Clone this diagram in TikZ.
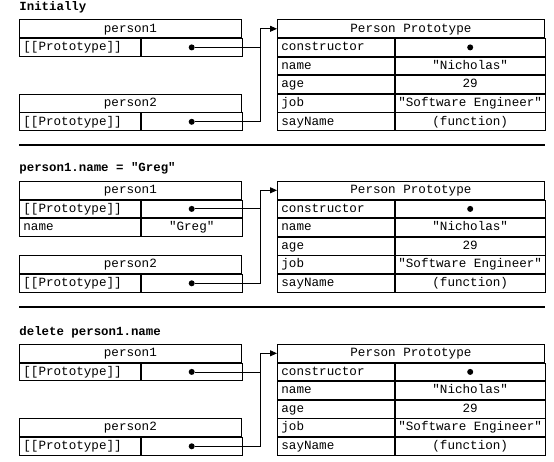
\documentclass[tikz,border=0pt]{standalone}
\usepackage{fontspec}
\setmonofont{Liberation Mono}
\usetikzlibrary{arrows.meta, positioning}
\tikzset{
  head/.style={rectangle, draw, inner sep=0pt, minimum height=17.8pt,
               text height=9pt, text depth=2.5pt, anchor=north west,
               font=\ttfamily\fontsize{12.6}{14}\selectfont},
  pkey/.style={head, text width=113pt, inner xsep=4pt, align=left},
  pval/.style={head, minimum width=101pt},
  okey/.style={head, text width=109pt, inner xsep=4pt, align=left},
  oval/.style={head, minimum width=150pt},
  heading/.style={anchor=base west, inner sep=0pt,
                  font=\ttfamily\bfseries\fontsize{12.4}{14}\selectfont},
  dot/.style={circle, fill, inner sep=0pt, minimum size=6pt},
  line/.style={line width=0.8pt},
  ptr/.style={line, -{Triangle[length=7pt, width=6pt]}},
  sep/.style={line width=1.4pt},
}
\begin{document}
\begin{tikzpicture}[x=1pt, y=-1pt, line width=0.8pt, node distance=0pt and 0pt]
  \useasboundingbox (0,0) rectangle (554,462);

  \foreach \s/\t/\txt in {1/19.5/Initially, 2/181/{person1.name = "Greg"}, 3/344/{delete person1.name}} {
    \node[heading] (cap\s) at (19,\t-9) {\txt};

    % prototype table
    \node[head, minimum width=267pt] (proto\s) at (277,\t) {Person Prototype};
    \node[okey, below right=of proto\s.south west] (con\s) {constructor};
    \node[oval, below right=of con\s.north east] (conv\s) {};
    \node[okey, below right=of con\s.south west] (name\s) {name};
    \node[oval, below right=of name\s.north east] (namev\s) {"Nicholas"};
    \node[okey, below right=of name\s.south west] (age\s) {age};
    \node[oval, below right=of age\s.north east] (agev\s) {29};
    \node[okey, below right=of age\s.south west] (job\s) {job};
    \node[oval, below right=of job\s.north east] (jobv\s) {"Software Engineer"};
    \node[okey, below right=of job\s.south west] (say\s) {sayName};
    \node[oval, below right=of say\s.north east] (sayv\s) {(function)};
    \node[dot] (cdot\s) at (conv\s.center) {};

    % person1 and person2
    \node[head, minimum width=222pt] (one\s) at (19,\t) {person1};
    \node[pkey, below right=of one\s.south west] (onek\s) {[[Prototype]]};
    \node[pval, below right=of onek\s.north east] (onev\s) {};
    \node[head, minimum width=222pt] (two\s) at (one\s.north west |- job\s.north) {person2};
    \node[pkey, below right=of two\s.south west] (twok\s) {[[Prototype]]};
    \node[pval, below right=of twok\s.north east] (twov\s) {};
    \node[dot] (dot1\s) at (onev\s.center) {};
    \node[dot] (dot2\s) at (twov\s.center) {};

    \coordinate[right=18pt of onev\s.east] (bend\s);
    \draw[line] (dot1\s) -- (dot1\s -| bend\s);
    \draw[ptr] (dot2\s) -- (dot2\s -| bend\s) |- (proto\s.west);
  }

  % own property after the assignment
  \node[pkey, below right=of onek2.south west] (ownk) {name};
  \node[pval, below right=of ownk.north east] (ownv) {"Greg"};

  \draw[sep] (19,145) -- (545,145);
  \draw[sep] (19,307) -- (545,307);
\end{tikzpicture}
\end{document}
